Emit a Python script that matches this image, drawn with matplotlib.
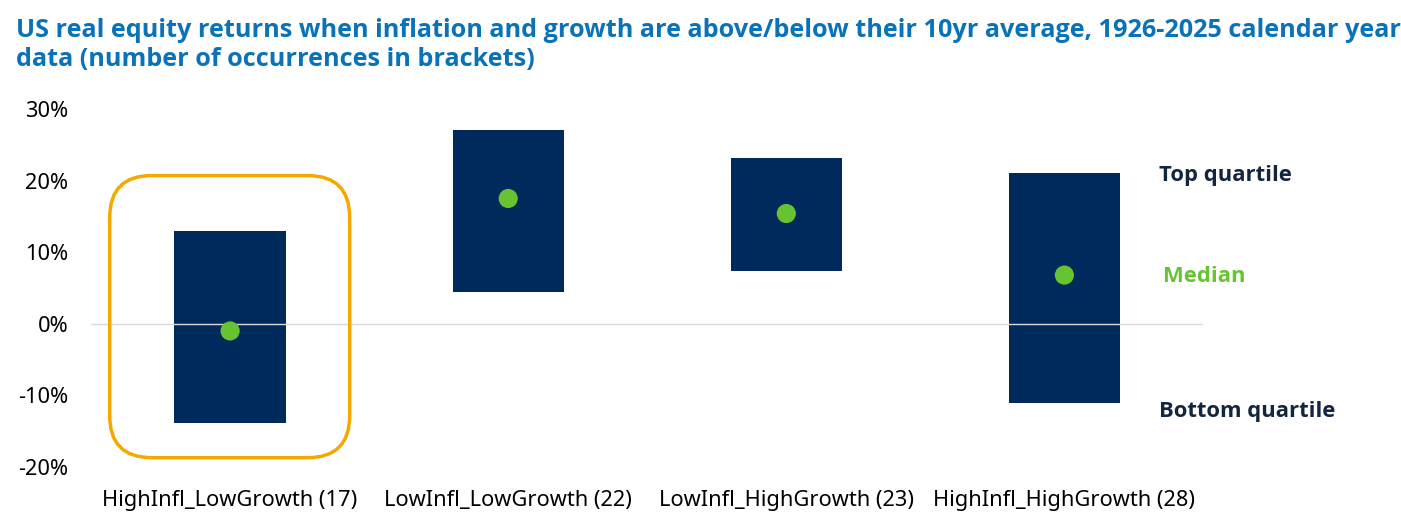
import matplotlib
matplotlib.use("Agg")
import matplotlib.pyplot as plt
from matplotlib.patches import FancyBboxPatch

plt.rcParams['font.family'] = ['Noto Sans', 'DejaVu Sans']
bold_family = ['Open Sans', 'DejaVu Sans']

categories = ['HighInfl_LowGrowth (17)', 'LowInfl_LowGrowth (22)',
              'LowInfl_HighGrowth (23)', 'HighInfl_HighGrowth (28)']
top_quartile = [13.0, 27.1, 23.2, 21.1]
bottom_quartile = [-13.8, 4.5, 7.4, -11.0]
median = [-1.0, 17.5, 15.4, 6.8]
yticks = [-20, -10, 0, 10, 20, 30]

navy = '#002A5C'
green = '#66C430'
orange = '#F5A800'
title_blue = '#0A72B8'
label_dark = '#13263F'

fig = plt.figure(figsize=(14.01, 5.22), dpi=100)
ax = fig.add_axes([0.065, 0.1054, 0.794, 0.6858])

x = list(range(len(categories)))
heights = [t - b for t, b in zip(top_quartile, bottom_quartile)]
ax.bar(x, heights, bottom=bottom_quartile, width=0.4, color=navy, zorder=2)
ax.axhline(0, color='#D9D9D9', lw=1, zorder=3)
ax.scatter(x, median, s=190, color=green, zorder=4, edgecolors='none')

ax.set_xlim(-0.5, 3.5)
ax.set_ylim(-20, 30)
ax.set_yticks(yticks)
ax.set_yticklabels([f'{v}%' for v in yticks])
ax.set_xticks(x)
ax.set_xticklabels(categories)
ax.tick_params(axis='both', length=0, labelsize=15.7, colors='black')
ax.tick_params(axis='y', pad=16.5)
ax.tick_params(axis='x', pad=16.5)
for s in ax.spines.values():
    s.set_visible(False)

# highlight box around the first category
fig.canvas.draw()
x0, y0 = ax.transData.transform((-0.433, -18.7))
x1, y1 = ax.transData.transform((0.43, 20.7))
box = FancyBboxPatch((x0, y0), x1 - x0, y1 - y0,
                     boxstyle='round,pad=0,rounding_size=42',
                     transform=None, fill=False, edgecolor=orange, lw=2.5,
                     zorder=5)
fig.patches.append(box)

# legend-like labels on the right
lx = 3.34
ax.text(lx, top_quartile[3] - 0.35, 'Top quartile', fontsize=15.8,
        fontweight='bold', family=bold_family, color=label_dark,
        va='center', ha='left')
ax.text(lx + 0.015, median[3] - 0.15, 'Median', fontsize=15.8,
        fontweight='bold', family=bold_family, color=green,
        va='center', ha='left')
ax.text(lx, bottom_quartile[3] - 1.25, 'Bottom quartile', fontsize=15.8,
        fontweight='bold', family=bold_family, color=label_dark,
        va='center', ha='left')
for t in ax.texts:
    t.set_clip_on(False)

fig.text(0.0114, 0.965,
         'US real equity returns when inflation and growth are above/below their 10yr average, 1926-2025 calendar year\n'
         'data (number of occurrences in brackets)',
         fontsize=18.2, fontweight='bold', family=bold_family, color=title_blue,
         va='top', ha='left', linespacing=1.2)

fig.savefig('out.png', dpi=100)
